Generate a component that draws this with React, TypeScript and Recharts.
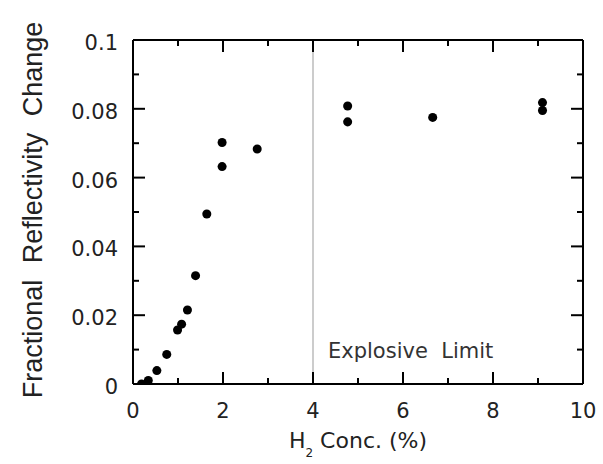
import { ScatterChart, Scatter, XAxis, YAxis, ReferenceLine } from 'recharts';

// H2 concentration (%) vs fractional reflectivity change
const h2Conc = [0.19, 0.34, 0.53, 0.75, 0.99, 1.08, 1.21, 1.39, 1.64, 1.98, 1.98, 2.76, 4.77, 4.77, 6.66, 9.1, 9.1];
const reflChange = [0.0, 0.001, 0.0039, 0.0086, 0.0157, 0.0174, 0.0215, 0.0315, 0.0494, 0.0702, 0.0632, 0.0683, 0.0808, 0.0762, 0.0775, 0.0818, 0.0795];

const xTicks = [0, 1, 2, 3, 4, 5, 6, 7, 8, 9, 10];
const yTicks = [0, 0.01, 0.02, 0.03, 0.04, 0.05, 0.06, 0.07, 0.08, 0.09, 0.1];
const explosiveLimit = 4;

const points = h2Conc.map((x, i) => ({ x, y: reflChange[i] }));

const FONT = '"DejaVu Sans", sans-serif';
const MAJOR = 12;
const MINOR = 6;

const isMajorX = (v: number) => Math.round(v) % 2 === 0;
const isMajorY = (v: number) => Math.round(v * 100) % 2 === 0;

const renderBottomTick = (props: any) => {
  const { x, y, payload } = props;
  const v = payload.value;
  const len = isMajorX(v) ? MAJOR : MINOR;
  return (
    <g key={`b-${v}`}>
      <path d={`M${x},${y}V${y - len}`} stroke="#000" strokeWidth={2} fill="none" />
      {isMajorX(v) && (
        <text x={x} y={y + 34} textAnchor="middle" fontFamily={FONT} fontSize={21} fill="#222">
          {v}
        </text>
      )}
    </g>
  );
};

const renderTopTick = (props: any) => {
  const { x, y, payload } = props;
  const len = isMajorX(payload.value) ? MAJOR : MINOR;
  return <path key={`t-${payload.value}`} d={`M${x},${y}V${y + len}`} stroke="#000" strokeWidth={2} fill="none" />;
};

const renderLeftTick = (props: any) => {
  const { x, y, payload } = props;
  const v = payload.value;
  const len = isMajorY(v) ? MAJOR : MINOR;
  return (
    <g key={`l-${v}`}>
      <path d={`M${x},${y}H${x + len}`} stroke="#000" strokeWidth={2} fill="none" />
      {isMajorY(v) && (
        <text x={x - 15} y={y + 10} textAnchor="end" fontFamily={FONT} fontSize={21} fill="#222">
          {String(v)}
        </text>
      )}
    </g>
  );
};

const renderRightTick = (props: any) => {
  const { x, y, payload } = props;
  const len = isMajorY(payload.value) ? MAJOR : MINOR;
  return <path key={`r-${payload.value}`} d={`M${x},${y}H${x - len}`} stroke="#000" strokeWidth={2} fill="none" />;
};

function LimitLabel(props: any) {
  const { viewBox } = props;
  return (
    <text
      x={viewBox.x + 15}
      y={viewBox.y + viewBox.height - 26}
      fontFamily={FONT}
      fontSize={21}
      fill="#333"
      style={{ whiteSpace: 'pre' }}
    >
      {'Explosive  Limit'}
    </text>
  );
}

export default function App() {
  return (
    <div style={{ position: 'absolute', left: 0, top: 0, background: '#fff' }}>
      <ScatterChart width={603} height={464} margin={{ top: 39, right: 19, left: 0, bottom: 0 }}>
        <XAxis
          type="number"
          dataKey="x"
          domain={[0, 10]}
          ticks={xTicks}
          interval={0}
          height={80}
          tickSize={0}
          tickMargin={0}
          tickLine={false}
          tick={renderBottomTick}
          axisLine={{ stroke: '#000', strokeWidth: 2 }}
          allowDataOverflow
        />
        <XAxis
          xAxisId="top"
          orientation="top"
          type="number"
          dataKey="x"
          domain={[0, 10]}
          ticks={xTicks}
          interval={0}
          height={1}
          tickSize={0}
          tickMargin={0}
          tickLine={false}
          tick={renderTopTick}
          axisLine={{ stroke: '#000', strokeWidth: 2 }}
          allowDataOverflow
        />
        <YAxis
          type="number"
          dataKey="y"
          domain={[0, 0.1]}
          ticks={yTicks}
          interval={0}
          width={133}
          tickSize={0}
          tickMargin={0}
          tickLine={false}
          tick={renderLeftTick}
          axisLine={{ stroke: '#000', strokeWidth: 2 }}
          allowDataOverflow
        />
        <YAxis
          yAxisId="right"
          orientation="right"
          type="number"
          dataKey="y"
          domain={[0, 0.1]}
          ticks={yTicks}
          interval={0}
          width={1}
          tickSize={0}
          tickMargin={0}
          tickLine={false}
          tick={renderRightTick}
          axisLine={{ stroke: '#000', strokeWidth: 2 }}
          allowDataOverflow
        />
        <ReferenceLine x={explosiveLimit} stroke="#999" strokeWidth={1} label={<LimitLabel />} />
        <Scatter data={points} fill="#000" shape="circle" isAnimationActive={false} />
        <Scatter
          data={points}
          xAxisId="top"
          yAxisId="right"
          fill="none"
          legendType="none"
          isAnimationActive={false}
        />
        <text
          x={42}
          y={210}
          transform="rotate(-90, 42, 210)"
          textAnchor="middle"
          fontFamily='"Liberation Sans", Arial, sans-serif'
          fontSize={27}
          fill="#222"
          wordSpacing={9}
        >
          Fractional Reflectivity Change
        </text>
        <text x={358} y={448} textAnchor="middle" fontFamily={FONT} fontSize={22} fill="#222">
          H
          <tspan dy={9} fontSize={12}>2</tspan>
          <tspan dy={-9}> Conc. (%)</tspan>
        </text>
      </ScatterChart>
    </div>
  );
}
